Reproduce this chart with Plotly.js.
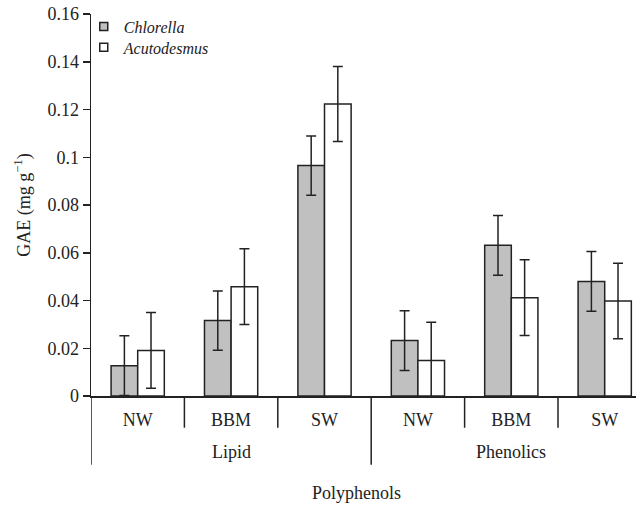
<!DOCTYPE html>
<html>
<head>
<meta charset="utf-8">
<script src="https://cdn.plot.ly/plotly-3.0.1.min.js"></script>
<style>html,body{margin:0;padding:0;background:#fff;}#chart{width:636px;height:508px;}</style>
</head>
<body>
<div id="chart"></div>
<script>
// ---- data ----
var conditions = ["NW", "BBM", "SW", "NW", "BBM", "SW"];
var groups = ["Lipid", "Phenolics"];
var groupCenters = [1, 4];
var xIndex = [0, 1, 2, 3, 4, 5];
var chlorella = [0.0127, 0.0316, 0.0965, 0.0232, 0.0631, 0.0480];
var chlorellaErr = [0.0125, 0.0124, 0.0124, 0.0125, 0.0125, 0.0125];
var acutodesmus = [0.0191, 0.0458, 0.1223, 0.0149, 0.0412, 0.0398];
var acutodesmusErr = [0.0159, 0.0159, 0.0157, 0.0160, 0.0159, 0.0158];
var yTicks = [0, 0.02, 0.04, 0.06, 0.08, 0.1, 0.12, 0.14, 0.16];
var yTickText = ["0", "0.02", "0.04", "0.06", "0.08", "0.1", "0.12", "0.14", "0.16"];
var seriesNames = ["Chlorella", "Acutodesmus"];

var INK = "#222222";
var FONT = "'Liberation Serif', 'DejaVu Serif', serif";
var FS = 18;

function barTrace(y, err, fill) {
  return {
    type: "bar", x: xIndex, y: y, showlegend: false,
    marker: {color: fill, line: {color: INK, width: 1.5}},
    error_y: {type: "data", array: err, visible: true, color: INK, thickness: 1.5, width: 5}
  };
}
function legendTrace(name, fill, legendId) {
  return {
    type: "scatter", mode: "markers", x: [null], y: [null], name: "<i>" + name + "</i>",
    legend: legendId, showlegend: true,
    marker: {symbol: "square", size: 8, color: fill, line: {color: INK, width: 1.5}}
  };
}

var data = [
  barTrace(chlorella, chlorellaErr, "#c0c0c0"),
  barTrace(acutodesmus, acutodesmusErr, "#ffffff"),
  legendTrace(seriesNames[0], "#c0c0c0", "legend"),
  legendTrace(seriesNames[1], "#ffffff", "legend2")
];

var shapes = [];
var lineStyle = {color: INK, width: 1.5};
// y axis extension below zero
shapes.push({type: "line", xref: "x", yref: "paper", x0: -0.5, x1: -0.5, y0: 0, y1: -0.18, line: lineStyle});
// separators between conditions
[0.5, 1.5, 3.5, 4.5].forEach(function (b) {
  shapes.push({type: "line", xref: "x", yref: "paper", x0: b, x1: b, y0: 0, y1: -0.083, line: lineStyle});
});
// separator between groups
shapes.push({type: "line", xref: "x", yref: "paper", x0: 2.5, x1: 2.5, y0: 0, y1: -0.18, line: lineStyle});

var annotations = groups.map(function (g, i) {
  return {text: g, x: groupCenters[i], xref: "x", y: -0.147, yref: "paper", showarrow: false,
          yanchor: "middle", font: {family: FONT, size: FS, color: INK}};
});
annotations.push({text: "Polyphenols", x: 0.488, xref: "paper", y: -0.253, yref: "paper", showarrow: false,
                  yanchor: "middle", font: {family: FONT, size: FS, color: INK}});

var legendCommon = {xanchor: "left", yanchor: "top", bgcolor: "rgba(0,0,0,0)", borderwidth: 0,
                    font: {family: FONT, size: 16, color: INK}, itemwidth: 30};

var layout = {
  width: 636, height: 508,
  margin: {l: 91, r: 0, t: 13.5, b: 111.7, pad: 0},
  paper_bgcolor: "#fff", plot_bgcolor: "#fff",
  font: {family: FONT, size: FS, color: INK},
  barmode: "group", bargap: 0.43, bargroupgap: 0,
  showlegend: true,
  legend: Object.assign({x: -0.0133, y: 1.0118}, legendCommon),
  legend2: Object.assign({x: -0.0133, y: 0.9569}, legendCommon),
  xaxis: {
    range: [-0.5, 5.335], tickvals: xIndex, ticktext: conditions, ticks: "",
    showline: true, linecolor: INK, linewidth: 1.5, showgrid: false, zeroline: false,
    tickfont: {family: FONT, size: FS, color: INK}, ticklabelstandoff: 7
  },
  yaxis: {
    range: [0, 0.16], tickvals: yTicks, ticktext: yTickText, ticks: "outside", ticklen: 7,
    tickwidth: 1.5, tickcolor: INK, showline: true, linecolor: INK, linewidth: 1.5,
    showgrid: false, zeroline: false, tickfont: {family: FONT, size: FS, color: INK},
    title: {text: "GAE (mg g<sup>\u22121</sup>)", font: {family: FONT, size: FS, color: INK}, standoff: 12}
  },
  shapes: shapes,
  annotations: annotations
};

Plotly.newPlot("chart", data, layout, {staticPlot: true, displayModeBar: false});
</script>
</body>
</html>
